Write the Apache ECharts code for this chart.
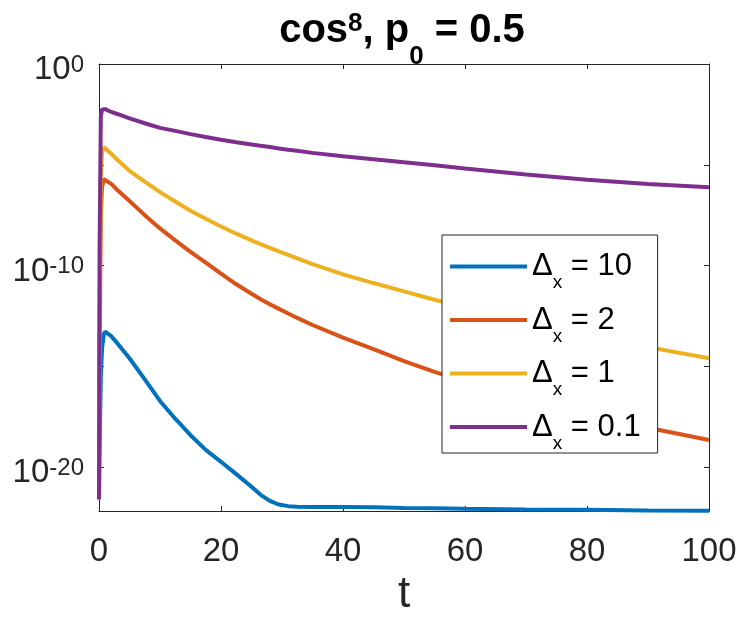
<!DOCTYPE html>
<html>
<head>
<meta charset="utf-8">
<script src="https://cdn.jsdelivr.net/npm/echarts@6/dist/echarts.min.js"></script>
<style>
  html, body { margin: 0; padding: 0; background: #fff; }
  #chart { width: 747px; height: 630px; }
</style>
</head>
<body>
<div id="chart"></div>
<script>
// time samples shared by all four curves
var tGrid = [0, 0.1, 0.3, 0.5, 0.8, 1, 2, 3, 5, 7.5, 10, 12.5, 15, 17.5, 20, 22.5, 25,
             26.5, 28, 29.5, 31, 32.5, 35, 40, 45, 50, 55, 60, 70, 80, 90, 100];

// values (y is logarithmic)
var dx10 = [2.5e-22, 1e-19, 3.16e-16, 7.94e-15, 3.98e-14, 5.25e-14, 3.16e-14, 1.41e-14, 2.51e-15, 2.24e-16,
            1.91e-17, 2.51e-18, 3.8e-19, 7.08e-20, 1.82e-20, 4.47e-21, 1.05e-21, 4.17e-22, 2.09e-22, 1.38e-22,
            1.15e-22, 1.07e-22, 1.05e-22, 1.05e-22, 1.0e-22, 9.33e-23, 8.91e-23, 8.51e-23, 7.94e-23, 7.59e-23,
            7.08e-23, 6.76e-23];
var dx2 = [2.5e-22, 1e-14, 3.16e-8, 7.94e-7, 1.91e-6, 2.14e-6, 1.12e-6, 5.62e-7, 1.58e-7, 3.16e-8,
           6.92e-9, 1.78e-9, 4.79e-10, 1.41e-10, 3.98e-11, 1.17e-11, 3.98e-12, 2.14e-12, 1.2e-12, 7.08e-13,
           4.17e-13, 2.51e-13, 1.12e-13, 2.63e-14, 7.08e-15, 1.82e-15, 5.25e-16, 1.78e-16, 2.51e-17, 5.01e-18,
           8.91e-19, 2.19e-19];
var dx1 = [2.5e-22, 1e-12, 2.5e-6, 3.98e-5, 7.6e-5, 7.08e-5, 3.55e-5, 1.78e-5, 5.0e-6, 1.45e-6,
           4.37e-7, 1.51e-7, 5.25e-8, 2.09e-8, 8.71e-9, 3.8e-9, 1.78e-9, 1.15e-9, 7.59e-10, 5.01e-10,
           3.39e-10, 2.29e-10, 1.17e-10, 3.63e-11, 1.35e-11, 5.25e-12, 2.0e-12, 8.71e-13, 1.82e-13, 3.98e-14,
           8.91e-15, 2.51e-15];
var dx01 = [2.5e-22, 1e-9, 2.5e-3, 5.6e-3, 6.3e-3, 5.75e-3, 4.17e-3, 3.31e-3, 2.0e-3, 1.15e-3,
            6.76e-4, 4.79e-4, 3.31e-4, 2.4e-4, 1.76e-4, 1.32e-4, 1.02e-4, 8.7e-5, 7.6e-5, 6.46e-5,
            5.6e-5, 4.9e-5, 3.89e-5, 2.63e-5, 1.9e-5, 1.32e-5, 9.55e-6, 6.6e-6, 3.31e-6, 1.82e-6,
            1.1e-6, 7.6e-7];

var seriesNames = ['Δx = 10', 'Δx = 2', 'Δx = 1', 'Δx = 0.1'];
var seriesValues = [dx10, dx2, dx1, dx01];
var colors = ['#0072BD', '#D95319', '#EDB120', '#7E2F8E'];

var xTicks = [0, 20, 40, 60, 80, 100];
var yMin = 6.6e-23, yMax = 1;

var FONT = '"Liberation Sans", Helvetica, Arial, sans-serif';
var AX = '#262626';

// the log axis of echarts rounds ticks below 1e-10 to zero, so the y axis
// works on decades (log10 of each value) and labels them as powers of ten
var yMinExp = Math.log10(yMin), yMaxExp = Math.log10(yMax);

function pairs(vals) {
  var out = [];
  for (var i = 0; i < tGrid.length; i++) out.push([tGrid[i], Math.log10(vals[i])]);
  return out;
}

function powLabel(e) {
  if (Math.abs(e % 10) > 0.01) return '';
  return '{b|10}{s|' + Math.round(e) + '}';
}

var series = [];
for (var i = 0; i < seriesNames.length; i++) {
  series.push({
    name: seriesNames[i],
    type: 'line',
    data: pairs(seriesValues[i]),
    showSymbol: false,
    symbol: 'none',
    smooth: false,
    clip: false,
    color: colors[i],
    lineStyle: { width: 4, color: colors[i] }
  });
}

var chart = echarts.init(document.getElementById('chart'));
chart.setOption({
  animation: false,
  backgroundColor: '#fff',
  title: {
    text: '{t|cos}{u|8}{t|, p}{l|0}{t| = 0.5}',
    left: 402,
    top: 11,
    padding: 0,
    textAlign: 'center',
    textStyle: {
      rich: {
        t: { fontSize: 40, fontWeight: 'bold', fontFamily: FONT, color: '#000', lineHeight: 48, verticalAlign: 'top' },
        u: { fontSize: 26, fontFamily: FONT, color: '#000', verticalAlign: 'top', lineHeight: 26 },
        l: { fontSize: 26, fontFamily: FONT, color: '#000', verticalAlign: 'top', lineHeight: 26, padding: [33, 0, 0, 0] }
      }
    }
  },
  grid: { left: 99, right: 38, top: 64, bottom: 119, containLabel: false },
  legend: {
    data: seriesNames,
    orient: 'vertical',
    left: 442,
    top: 235,
    padding: [16, 17, 0, 8],
    itemWidth: 77,
    itemHeight: 4,
    itemGap: 12,
    icon: 'rect',
    backgroundColor: '#fff',
    borderColor: AX,
    borderWidth: 1,
    borderRadius: 0,
    formatter: function (name) {
      return name.replace('Δx', '{d|Δ}{s|x}{d|') + '}';
    },
    textStyle: {
      rich: {
        d: { fontSize: 31, fontFamily: FONT, color: '#000', lineHeight: 52 },
        s: { fontSize: 19, fontFamily: FONT, color: '#000', verticalAlign: 'bottom', lineHeight: 19 }
      }
    }
  },
  xAxis: [{
    type: 'value',
    min: xTicks[0],
    max: xTicks[xTicks.length - 1],
    interval: 20,
    position: 'bottom',
    name: 't',
    nameLocation: 'middle',
    nameGap: 58,
    nameTextStyle: { fontSize: 44, fontFamily: FONT, color: AX },
    axisLine: { show: true, onZero: false, lineStyle: { color: AX, width: 1 } },
    axisTick: { show: true, inside: true, length: 5, lineStyle: { color: AX } },
    axisLabel: { fontSize: 33, fontFamily: FONT, color: AX, margin: 24, alignMinLabel: 'center', alignMaxLabel: 'center' },
    splitLine: { show: false }
  }, {
    type: 'value',
    min: xTicks[0],
    max: xTicks[xTicks.length - 1],
    interval: 20,
    position: 'top',
    axisLine: { show: true, onZero: false, lineStyle: { color: AX, width: 1 } },
    axisTick: { show: true, inside: true, length: 5, lineStyle: { color: AX } },
    axisLabel: { show: false },
    splitLine: { show: false }
  }],
  yAxis: [{
    type: 'value',
    min: yMinExp,
    max: yMaxExp,
    position: 'left',
    axisLine: { show: true, onZero: false, lineStyle: { color: AX, width: 1 } },
    axisTick: { show: true, inside: true, length: 5, lineStyle: { color: AX } },
    axisLabel: {
      margin: 15,
      formatter: powLabel,
      rich: {
        b: { fontSize: 33, fontFamily: FONT, color: AX, lineHeight: 38, padding: [12, 0, 0, 0] },
        s: { fontSize: 24, fontFamily: FONT, color: AX, verticalAlign: 'top', lineHeight: 24, padding: [8, 0, 0, 0] }
      }
    },
    splitLine: { show: false }
  }, {
    type: 'value',
    min: yMinExp,
    max: yMaxExp,
    position: 'right',
    axisLine: { show: true, onZero: false, lineStyle: { color: AX, width: 1 } },
    axisTick: { show: true, inside: true, length: 5, lineStyle: { color: AX } },
    axisLabel: { show: false },
    splitLine: { show: false }
  }],
  series: series
});
</script>
</body>
</html>
